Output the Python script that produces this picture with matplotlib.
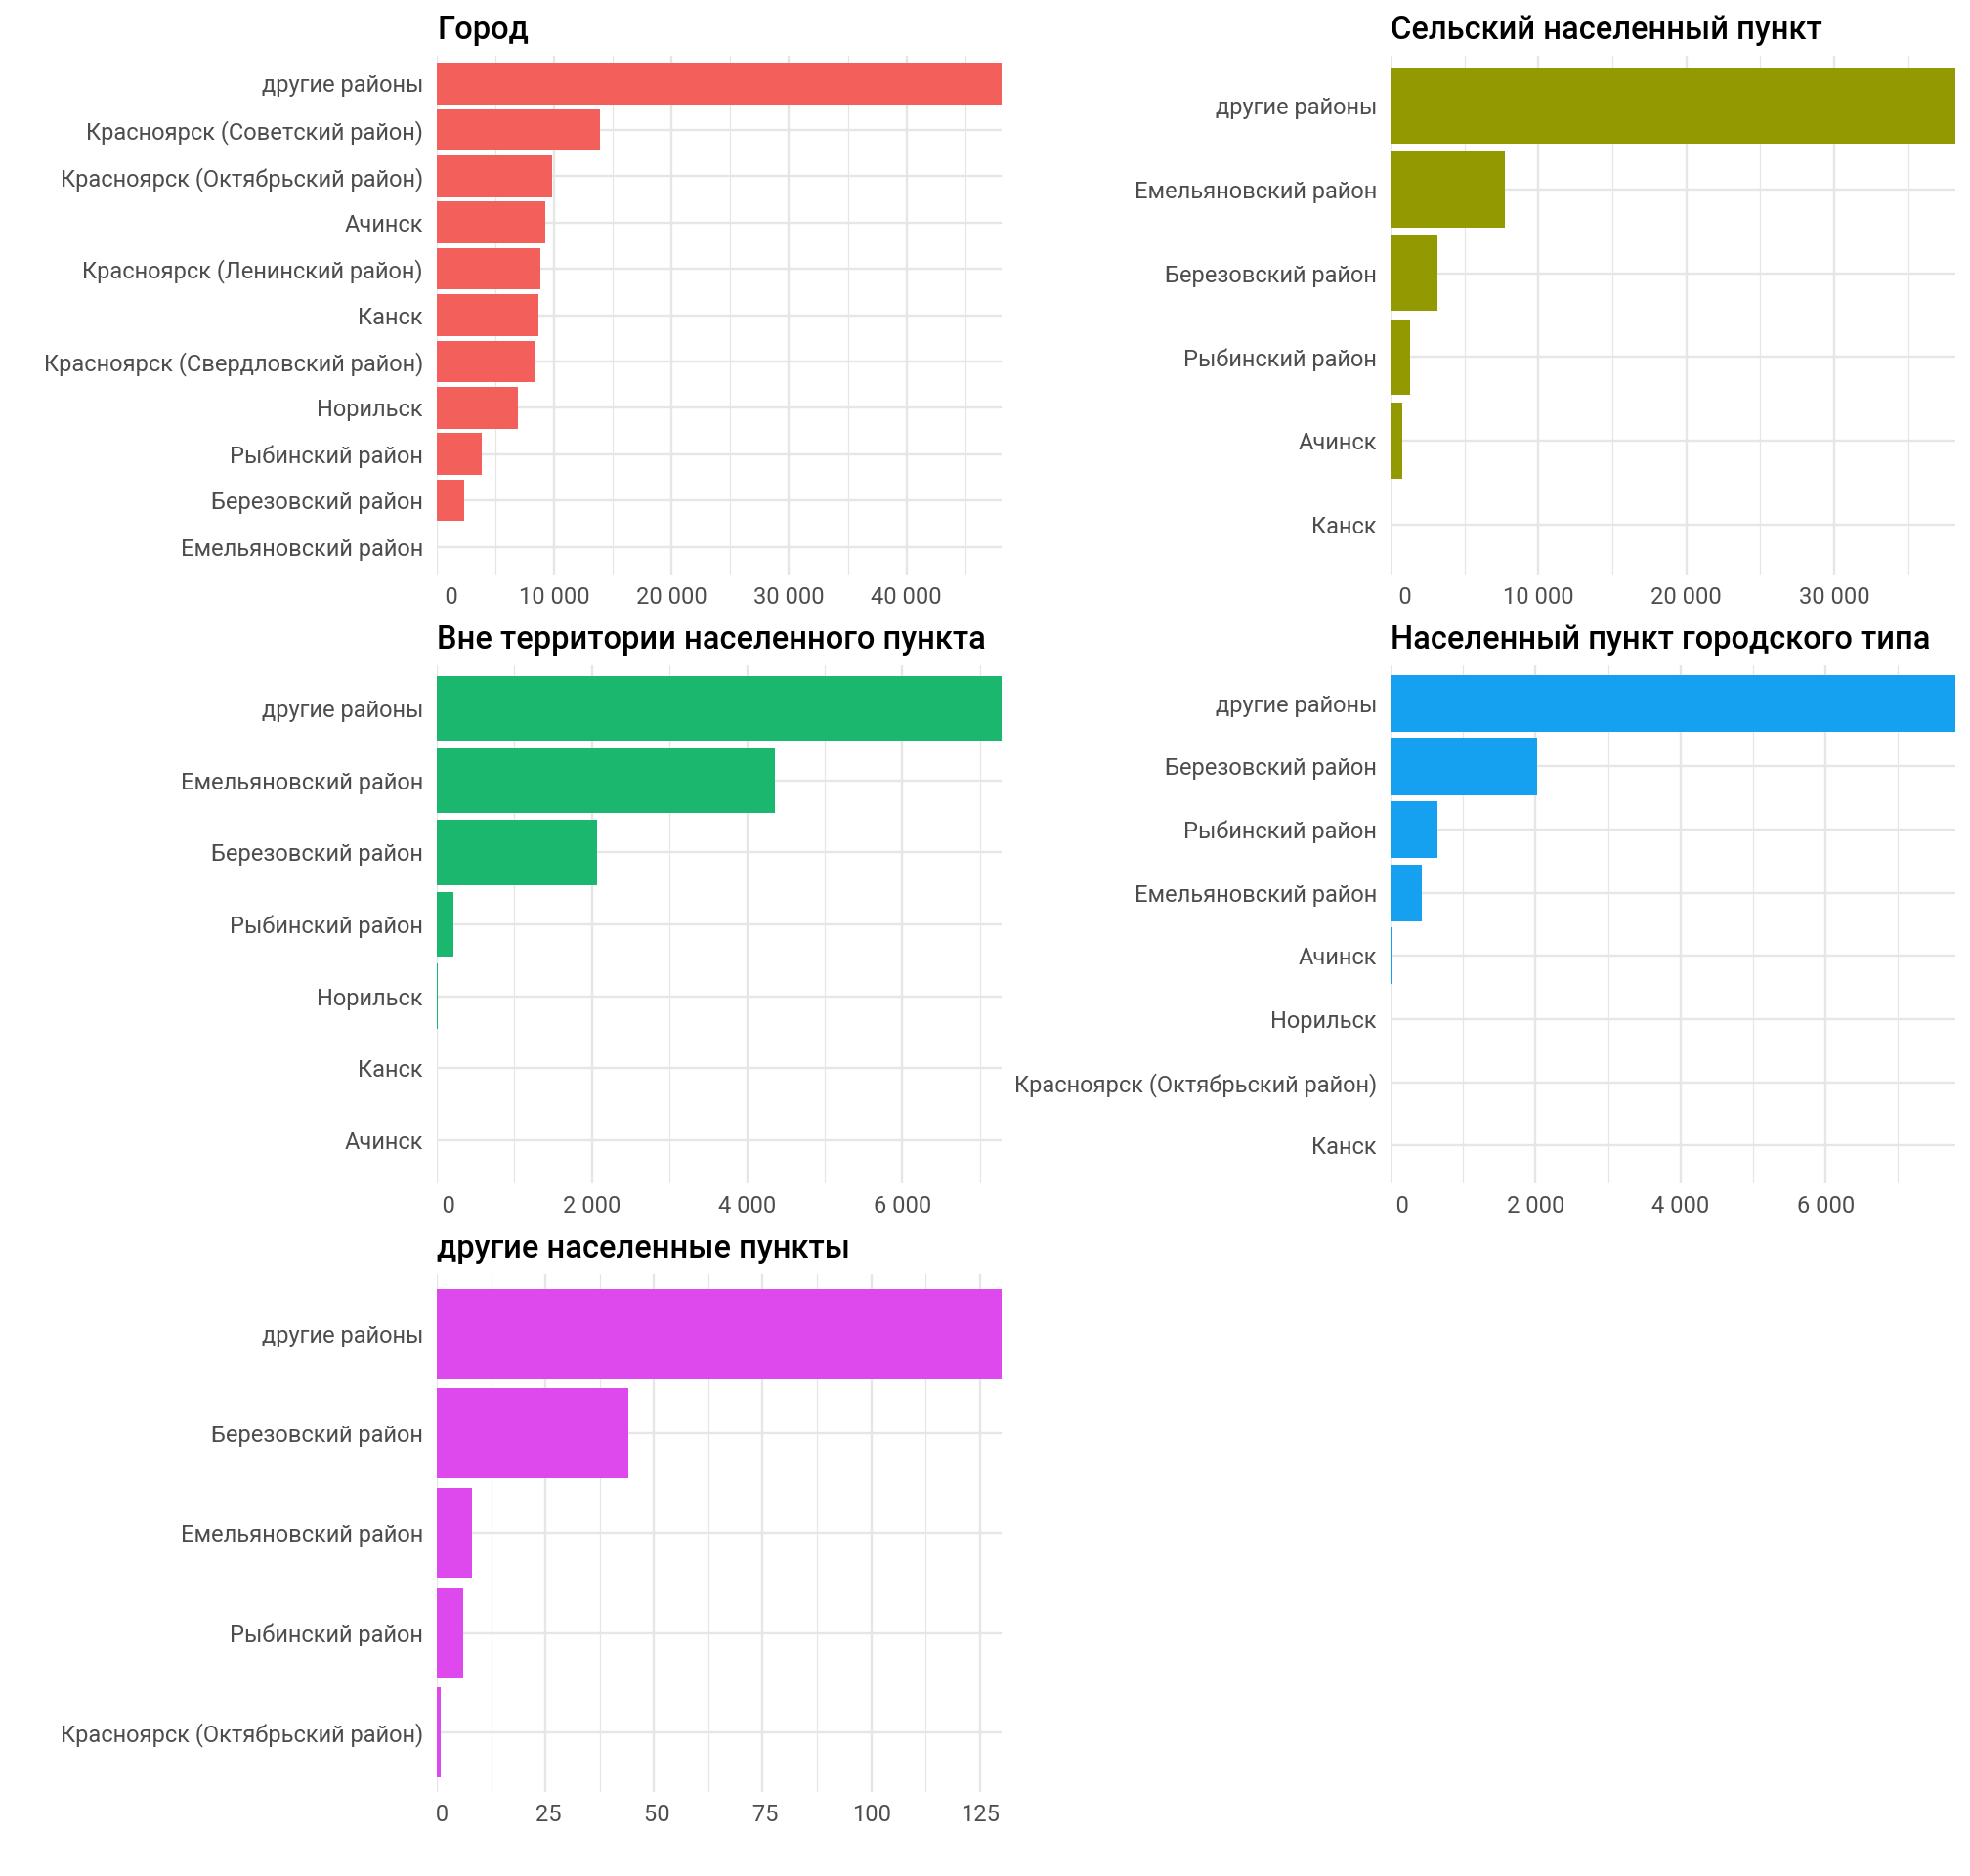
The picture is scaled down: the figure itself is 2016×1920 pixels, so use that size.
import matplotlib

matplotlib.use("Agg")
import matplotlib.pyplot as plt
from matplotlib.ticker import FixedLocator, FixedFormatter

plt.rcParams["font.family"] = ["Roboto", "DejaVu Sans"]

W, H = 2016, 1920
DPI = 144

# --- data ---
gorod_cats = ["другие районы", "Красноярск (Советский район)", "Красноярск (Октябрьский район)",
              "Ачинск", "Красноярск (Ленинский район)", "Канск", "Красноярск (Свердловский район)",
              "Норильск", "Рыбинский район", "Березовский район", "Емельяновский район"]
gorod_vals = [48100, 13900, 9830, 9230, 8840, 8670, 8340, 6900, 3810, 2320, 15]

selo_cats = ["другие районы", "Емельяновский район", "Березовский район", "Рыбинский район",
             "Ачинск", "Канск"]
selo_vals = [38200, 7700, 3170, 1330, 770, 20]

vne_cats = ["другие районы", "Емельяновский район", "Березовский район", "Рыбинский район",
            "Норильск", "Канск", "Ачинск"]
vne_vals = [7280, 4360, 2060, 217, 9, 5, 1]

pgt_cats = ["другие районы", "Березовский район", "Рыбинский район", "Емельяновский район",
            "Ачинск", "Норильск", "Красноярск (Октябрьский район)", "Канск"]
pgt_vals = [7790, 2020, 646, 428, 12, 6, 3, 1]

other_cats = ["другие районы", "Березовский район", "Емельяновский район", "Рыбинский район",
              "Красноярск (Октябрьский район)"]
other_vals = [130, 44, 8, 6, 1]

panels = [
    ("Город", gorod_cats, gorod_vals, "#F35F5A", 10000, (447, 1025, 57, 588)),
    ("Сельский населенный пункт", selo_cats, selo_vals, "#939900", 10000, (1423, 2001, 57, 588)),
    ("Вне территории населенного пункта", vne_cats, vne_vals, "#1BB76E", 2000, (447, 1025, 681, 1211)),
    ("Населенный пункт городского типа", pgt_cats, pgt_vals, "#16A0F0", 2000, (1423, 2001, 681, 1211)),
    ("другие населенные пункты", other_cats, other_vals, "#DE49EE", 25, (447, 1025, 1304, 1834)),
]

GRID = "#E6E6E6"

fig = plt.figure(figsize=(W / DPI, H / DPI), dpi=DPI)

for title, cats, vals, color, step, (l, r, t, b) in panels:
    ax = fig.add_axes([l / W, 1 - b / H, (r - l) / W, (b - t) / H])
    n = len(cats)
    ypos = list(range(n))[::-1]
    xmax = max(vals)
    ax.barh(ypos, vals, height=0.9, color=color, zorder=3)
    ax.set_xlim(0, xmax)
    ax.set_ylim(-0.6, n - 1 + 0.6)

    majors = [v for v in range(0, int(xmax) + 1, step)]
    minors = [v + step / 2 for v in majors if v + step / 2 <= xmax]
    labs = [f"{v:,}".replace(",", " ") for v in majors]
    width = max(len(s) for s in labs)
    labs = [s.rjust(width) for s in labs]
    ax.xaxis.set_major_locator(FixedLocator(majors))
    ax.xaxis.set_major_formatter(FixedFormatter(labs))
    ax.xaxis.set_minor_locator(FixedLocator(minors))
    ax.set_yticks(ypos, cats)

    ax.grid(True, which="major", axis="both", color=GRID, lw=1.2, zorder=0)
    ax.grid(True, which="minor", axis="x", color=GRID, lw=0.6, zorder=0)
    ax.set_axisbelow(True)
    for s in ax.spines.values():
        s.set_visible(False)
    ax.tick_params(axis="both", which="both", length=0, colors="#4D4D4D", labelsize=11.8)
    ax.tick_params(axis="x", pad=6)
    ax.tick_params(axis="y", pad=7)

    fig.text(l / W, 1 - (t - 26) / H, title, fontsize=16.3, fontweight="medium",
             color="black", ha="left", va="center")

fig.savefig("out.png", dpi=DPI, facecolor="white")
